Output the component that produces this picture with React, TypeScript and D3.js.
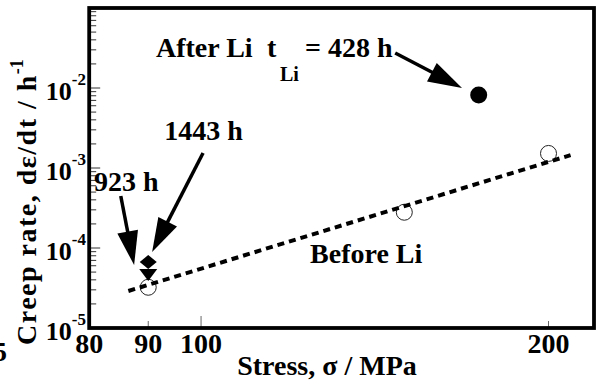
import React from "react";
import * as d3 from "d3";

// ---- data ----
const beforeStress = [90, 150, 200];
const beforeRate = [3.23e-5, 2.8e-4, 1.52e-3];
const afterStress = [174];
const afterRate = [8.2e-3];
const stress1443 = [90];
const rate1443 = [6.68e-5];
const stress923 = [90];
const rate923 = [4.73e-5];
const fitStress = [86.5, 209];
const fitRate = [2.9e-5, 1.45e-3];
const xTickValues = [80, 90, 100, 200];
const xTickLabels = ["80", "90", "100", "200"];
const yDecades = [-5, -4, -3, -2];
const yTickLabels = ["-5", "-4", "-3", "-2"];

// annotation anchors in data space: [stress, rate]
const arrowAfter = [[147.3, 2.74e-2], [168.3, 1.0e-2]];
const arrow1443 = [[100.4, 1.54e-3], [90.7, 8.9e-5]];
const arrow923 = [[85.2, 4.47e-4], [87.5, 6.13e-5]];

const W = 596, H = 381;
const FONT = "'Liberation Serif', 'Times New Roman', serif";

export default function App() {
  const x = d3.scaleLog().domain([80, 219]).range([89.2, 594]);
  const y = d3.scaleLog().domain([1e-5, 1e-1]).range([328, 8]);

  const fitLine = d3.line<number>().x((_, i) => x(fitStress[i])).y((_, i) => y(fitRate[i]));

  const arrow = (a: number[][], key: string) => {
    const x1 = x(a[0][0]), y1 = y(a[0][1]);
    const x2 = x(a[1][0]), y2 = y(a[1][1]);
    const dx = x2 - x1, dy = y2 - y1;
    const L = Math.hypot(dx, dy);
    const ux = dx / L, uy = dy / L;
    const hl = 34, hw = 21;
    const bx = x2 - ux * hl, by = y2 - uy * hl;
    const px = -uy, py = ux;
    const pts = [
      [x2, y2],
      [bx + px * hw / 2, by + py * hw / 2],
      [bx - px * hw / 2, by - py * hw / 2],
    ];
    return (
      <g key={key}>
        <line x1={x1} y1={y1} x2={bx + ux * 4} y2={by + uy * 4} stroke="#000" strokeWidth={3.5} />
        <polygon points={pts.map((p) => p.join(",")).join(" ")} fill="#000" />
      </g>
    );
  };

  const minorY: number[] = [];
  yDecades.forEach((d) => {
    for (let m = 2; m <= 9; m++) minorY.push(m * Math.pow(10, d));
  });
  const majorY = [1e-4, 1e-3, 1e-2];

  const txt = { fontFamily: FONT, fontWeight: "bold" as const, fill: "#000" };

  return (
    <svg width={W} height={H} style={{ position: "absolute", left: 0, top: 0, background: "#fff" }}>
      <rect x={0} y={0} width={W} height={H} fill="#fff" />
      {/* y ticks */}
      {minorY.map((v, i) => (
        <line key={"my" + i} x1={x(80)} x2={x(80) + 7} y1={y(v)} y2={y(v)} stroke="#333" strokeWidth={1} />
      ))}
      {majorY.map((v, i) => (
        <line key={"My" + i} x1={x(80)} x2={x(80) + 11} y1={y(v)} y2={y(v)} stroke="#333" strokeWidth={1} />
      ))}
      {/* x ticks */}
      {[90, 200].map((v) => (
        <line key={"xt" + v} x1={x(v)} x2={x(v)} y1={y(1e-5)} y2={y(1e-5) - 7} stroke="#666" strokeWidth={1} />
      ))}
      <line x1={x(100)} x2={x(100)} y1={y(1e-5)} y2={y(1e-5) - 12} stroke="#666" strokeWidth={1} />

      {/* open circles (before Li) */}
      {beforeStress.map((s, i) => (
        <circle key={"b" + i} cx={x(s)} cy={y(beforeRate[i])} r={8} fill="none" stroke="#222" strokeWidth={1} />
      ))}
      {/* fit line */}
      <path d={fitLine([0, 1]) || ""} fill="none" stroke="#000" strokeWidth={4} strokeDasharray="7 5" />

      {/* 923 h triangle */}
      {stress923.map((s, i) => {
        const cx = x(s), cy = y(rate923[i]);
        return <path key={"t" + i} d={`M${cx - 9},${cy - 5} L${cx + 9},${cy - 5} L${cx},${cy + 7} Z`} fill="#000" />;
      })}
      {/* 1443 h diamond */}
      {stress1443.map((s, i) => {
        const cx = x(s), cy = y(rate1443[i]);
        return <path key={"d" + i} d={`M${cx},${cy - 7} L${cx + 8.5},${cy} L${cx},${cy + 7} L${cx - 8.5},${cy} Z`} fill="#000" />;
      })}
      {/* after Li filled */}
      {afterStress.map((s, i) => (
        <circle key={"a" + i} cx={x(s)} cy={y(afterRate[i])} r={8.5} fill="#000" />
      ))}

      {/* arrows */}
      {arrow(arrowAfter, "aa")}
      {arrow(arrow1443, "a1")}
      {arrow(arrow923, "a2")}

      {/* frame */}
      <rect x={x(80)} y={y(1e-1)} width={x(219) - x(80)} height={y(1e-5) - y(1e-1)} fill="none" stroke="#000" strokeWidth={3.8} />

      {/* annotations */}
      <g transform={`translate(${x(91.4)},${y(2.44e-2)})`} style={txt}>
        <text x={0} y={0} fontSize={28} {...txt}>After Li</text>
        <text x={111} y={0} fontSize={28} {...txt}>t</text>
        <text x={124} y={24} fontSize={20} {...txt}>Li</text>
        <text x={149} y={0} fontSize={28} {...txt}>= 428 h</text>
      </g>
      <text x={x(92.9)} y={y(2.24e-3)} fontSize={28} {...txt}>1443 h</text>
      <text x={x(80.77)} y={y(5.16e-4)} fontSize={28} {...txt}>923 h</text>
      <text x={x(124.3)} y={y(6.49e-5)} fontSize={28} {...txt}>Before Li</text>

      {/* y tick labels */}
      {yDecades.map((d, i) => (
        <text key={"yl" + d} x={86} y={y(Math.pow(10, d)) + 11.5} textAnchor="end" fontSize={26} {...txt}>
          10<tspan dy={-15} fontSize={17}>{yTickLabels[i]}</tspan>
        </text>
      ))}
      {/* x tick labels */}
      {xTickValues.map((v, i) => (
        <text key={"xl" + v} x={x(v)} y={353} textAnchor="middle" fontSize={28} {...txt}>{xTickLabels[i]}</text>
      ))}

      {/* axis titles */}
      <text x={327} y={374.5} textAnchor="middle" fontSize={28} {...txt}>Stress, σ / MPa</text>
      <text transform="translate(36,345) rotate(-90)" x={0} y={0} fontSize={28} letterSpacing={1.5} {...txt}>
        Creep rate, dε/dt / h<tspan dy={-13} fontSize={18} letterSpacing={0}>-1</tspan>
      </text>

      {/* cropped fragment at left edge */}
      <text x={-7} y={361} fontSize={28} {...txt}>5</text>
    </svg>
  );
}
